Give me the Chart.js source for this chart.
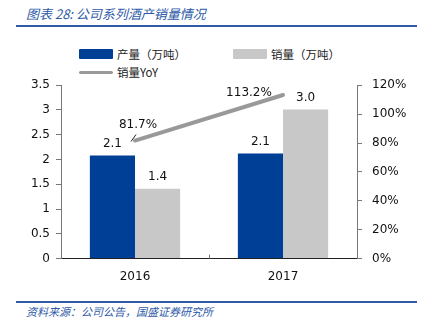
<!DOCTYPE html>
<html>
<head>
<meta charset="utf-8">
<script src="https://cdn.jsdelivr.net/npm/chart.js@4/dist/chart.umd.min.js"></script>
<style>
  body { margin: 0; background: #fff; width: 424px; height: 328px; position: relative; overflow: hidden; font-family: "DejaVu Sans", sans-serif; }
  .title { position: absolute; left: 26px; top: 4px; font: italic 13px "Noto Sans CJK SC", sans-serif; color: #2e5aa8; }
  .rule { position: absolute; left: 16px; width: 401px; height: 2px; background: #2e5aa8; }
  .source { position: absolute; left: 26px; top: 303px; font: italic 11px "Noto Sans CJK SC", sans-serif; color: #2e5aa8; }
  .legend { position: absolute; font: 11.5px "Noto Sans CJK SC", sans-serif; color: #222; display: flex; align-items: center; }
  .legend .box { width: 34px; height: 10px; margin-right: 4px; border-radius: 1px; }
  .legend .ln { width: 34px; height: 3px; margin-right: 4px; border-radius: 2px; }
  #wrap { position: absolute; left: 0; top: 68px; width: 424px; height: 219px; }
</style>
</head>
<body>
<div class="title">图表 28:  公司系列酒产销量情况</div>
<div class="rule" style="top:25px"></div>
<div id="legend"></div>
<div id="wrap"><canvas id="chart"></canvas></div>
<div class="rule" style="top:301px"></div>
<div class="source">资料来源：公司公告，国盛证券研究所</div>
<script>
// chart data
const years = ['2016', '2017'];
const output = [2.08, 2.12];      // 产量（万吨）
const sales = [1.41, 3.01];       // 销量（万吨）
const salesYoy = [81.7, 113.2];   // 销量YoY (%)
const seriesNames = ['产量（万吨）', '销量（万吨）', '销量YoY'];
const leftTicks = [0, 0.5, 1, 1.5, 2, 2.5, 3, 3.5];
const rightTicks = [0, 20, 40, 60, 80, 100, 120];

const colors = ['#003f96', '#c8c8c8', '#999999'];

// legend built by hand so the second row starts at the left
const legendEl = document.getElementById('legend');
const legendPos = [[79, 46, 'box'], [233, 46, 'box'], [79, 64, 'ln']];
seriesNames.forEach((name, i) => {
    const item = document.createElement('div');
    item.className = 'legend';
    item.style.left = legendPos[i][0] + 'px';
    item.style.top = legendPos[i][1] + 'px';
    item.innerHTML = '<span class="' + legendPos[i][2] + '" style="background:' + colors[i] + '"></span>' + name;
    legendEl.appendChild(item);
});

// value labels over the bars and the YoY points
const labelsPlugin = {
    id: 'labels',
    afterDatasetsDraw(chart) {
        const ctx = chart.ctx;
        ctx.save();
        ctx.font = '12px "DejaVu Sans", sans-serif';
        ctx.fillStyle = '#111';
        ctx.textAlign = 'center';
        ctx.textBaseline = 'bottom';
        [0, 1].forEach(d => {
            chart.getDatasetMeta(d).data.forEach((bar, i) => {
                const v = chart.data.datasets[d].data[i];
                ctx.fillText(v.toFixed(1), bar.x, bar.y - 6);
            });
        });
        const pts = chart.getDatasetMeta(2).data;
        // first point: label above with a small leader line
        ctx.fillText(salesYoy[0].toFixed(1) + '%', pts[0].x + 3, pts[0].y - 10);
        ctx.strokeStyle = '#222';
        ctx.lineWidth = 1;
        ctx.beginPath();
        ctx.moveTo(pts[0].x - 4, pts[0].y + 1);
        ctx.lineTo(pts[0].x + 1, pts[0].y - 6);
        ctx.stroke();
        ctx.fillText(salesYoy[1].toFixed(1) + '%', pts[1].x - 34, pts[1].y + 4);
        // small inner tick between categories
        const xs = chart.scales.x;
        const mid = (xs.getPixelForValue(0) + xs.getPixelForValue(1)) / 2;
        ctx.strokeStyle = '#777';
        ctx.beginPath();
        ctx.moveTo(Math.round(mid) + 0.5, chart.chartArea.bottom);
        ctx.lineTo(Math.round(mid) + 0.5, chart.chartArea.bottom - 4);
        ctx.stroke();
        ctx.restore();
    }
};

new Chart(document.getElementById('chart'), {
    type: 'bar',
    data: {
        labels: years,
        datasets: [
            { label: seriesNames[0], data: output, backgroundColor: colors[0], yAxisID: 'y', order: 2 },
            { label: seriesNames[1], data: sales, backgroundColor: colors[1], yAxisID: 'y', order: 2 },
            {
                type: 'line', label: seriesNames[2], data: salesYoy, yAxisID: 'y1', order: 1,
                borderColor: colors[2], borderWidth: 4, pointRadius: 0, borderCapStyle: 'round'
            }
        ]
    },
    options: {
        responsive: true,
        maintainAspectRatio: false,
        animation: false,
        layout: { padding: { top: 4, left: 0, right: 0, bottom: 0 } },
        plugins: { legend: { display: false }, tooltip: { enabled: false } },
        datasets: { bar: { categoryPercentage: 0.61, barPercentage: 1.0 } },
        scales: {
            x: {
                grid: { display: false },
                border: { color: '#222', width: 1 },
                ticks: { color: '#111', font: { size: 12, family: '"DejaVu Sans", sans-serif' }, padding: 3 }
            },
            y: {
                position: 'left', min: 0, max: 3.5,
                afterBuildTicks: s => { s.ticks = leftTicks.map(v => ({ value: v })); },
                afterFit: s => { s.width = 61; },
                grid: { drawOnChartArea: false, tickLength: 5, color: '#777' },
                border: { color: '#777' },
                ticks: {
                    color: '#111', font: { size: 12, family: '"DejaVu Sans", sans-serif' }, padding: 6,
                    callback: v => String(v)
                }
            },
            y1: {
                position: 'right', min: 0, max: 120,
                afterBuildTicks: s => { s.ticks = rightTicks.map(v => ({ value: v })); },
                afterFit: s => { s.width = 67; },
                grid: { drawOnChartArea: false, tickLength: 5, color: '#777' },
                border: { color: '#777' },
                ticks: {
                    color: '#111', font: { size: 12, family: '"DejaVu Sans", sans-serif' }, padding: 10,
                    callback: v => v + '%'
                }
            }
        }
    },
    plugins: [labelsPlugin]
});
</script>
</body>
</html>
